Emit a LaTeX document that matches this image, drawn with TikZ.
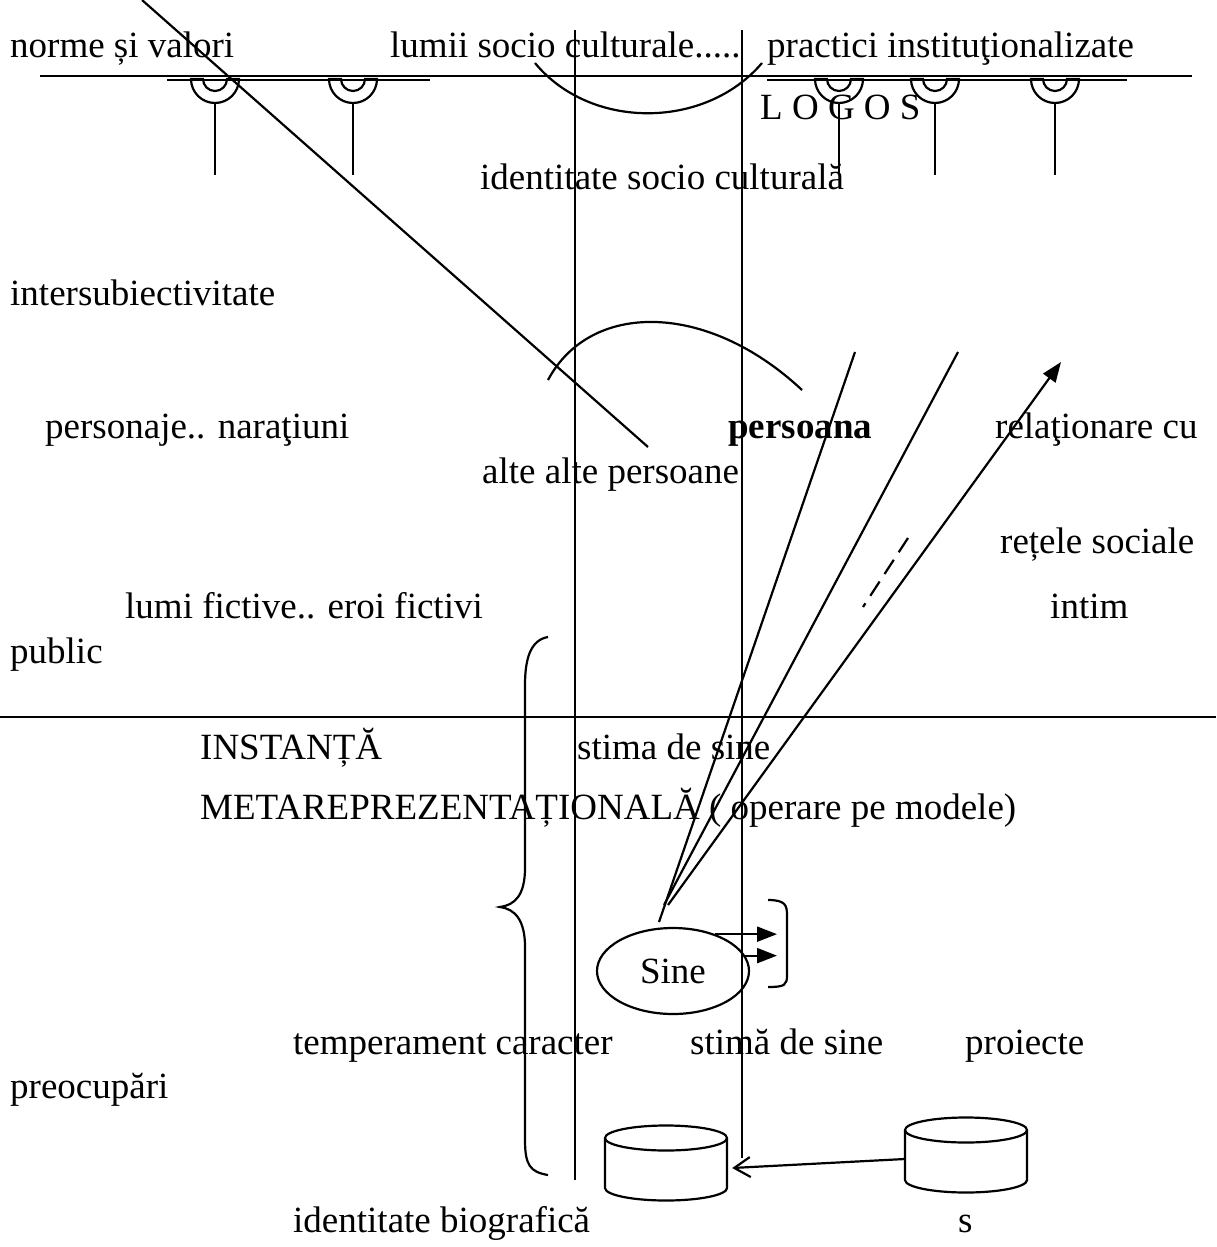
\documentclass[tikz,border=0pt]{standalone}
\usepackage{fontspec}
\setmainfont{Liberation Serif}
\usetikzlibrary{shapes.geometric,arrows.meta}
\begin{document}
\begin{tikzpicture}[x=1pt,y=-1pt,
  txt/.style={font=\fontsize{37}{44}\selectfont},
  lbl/.style={txt, anchor=base west, inner sep=0pt},
  ln/.style={line width=2.2pt},
  tip/.style={ln, -{Triangle[length=20pt,width=15pt]}},
  opentip/.style={ln, -{Straight Barb[length=16pt,width=20pt]}},
  socket/.pic={
    \draw[ln] (-24,0) arc[start angle=180,end angle=0,radius=24]
      -- (12,0) arc[start angle=0,end angle=180,radius=12] -- cycle;
    \draw[ln] (0,24) -- (0,96);
  },
  drum/.pic={
    \draw[ln] (0,-25) ellipse[x radius=61, y radius=12.5];
    \draw[ln] (-61,-25) -- (-61,25)
      arc[start angle=180,end angle=0,x radius=61,y radius=12.5] -- (61,-25);
  }]
\useasboundingbox (0,0) rectangle (1216,1247);

% ---- labels ----
\node[lbl] (norme) at (10,57) {norme și valori};
\node[lbl] (lumii) at (390,57) {lumii socio culturale.....};
\node[lbl] (practici) at (767,57) {practici instituţionalizate};
\node[lbl] (logos) at (760,119) {L O G O S};
\node[lbl] (idsc) at (480,189) {identitate socio culturală};
\node[lbl] (inter) at (10,305) {intersubiectivitate};
\node[lbl] (perso) at (45,438) {personaje.. naraţiuni};
\node[lbl, font=\fontsize{37}{44}\selectfont\bfseries] (persoana) at (728,438) {persoana};
\node[lbl] (relat) at (995,438) {relaţionare cu};
\node[lbl] (alte) at (482,483) {alte alte persoane};
\node[lbl] (retele) at (1000,553) {rețele sociale};
\node[lbl] (lumif) at (125,618) {lumi fictive.. eroi fictivi};
\node[lbl] (intim) at (1050,618) {intim};
\node[lbl] (public) at (10,663) {public};
\node[lbl] (instanta) at (200,759) {INSTANȚĂ};
\node[lbl] (stima) at (577,759) {stima de sine};
\node[lbl] (meta) at (200,819) {METAREPREZENTAȚIONALĂ ( operare pe modele)};
\node[lbl] (temp) at (293,1054) {temperament caracter};
\node[lbl] (stimas) at (690,1054) {stimă de sine};
\node[lbl] (proiecte) at (965,1054) {proiecte};
\node[lbl] (preoc) at (10,1098) {preocupări};
\node[lbl] (idbio) at (293,1232) {identitate biografică};
\node[lbl] (s) at (958,1232) {s};

% ---- Sine ----
\node[txt, ellipse, draw, ln, inner sep=0pt, minimum width=152pt, minimum height=86pt]
  (sine) at (673,971) {Sine};

% ---- LOGOS bar with sockets ----
\coordinate (barL) at (40,76);   \coordinate (barR) at (1192,76);
\draw[ln] (barL) -- (barR);
\coordinate (b1L) at (167,80);   \coordinate (b1R) at (430,80);
\coordinate (b2L) at (767,80);   \coordinate (b2R) at (1127,80);
\draw[ln] (b1L) -- (b1R);
\draw[ln] (b2L) -- (b2R);
\foreach \cx in {215,353,839,935,1055}
  \pic at (\cx,79) {socket};

% ---- long diagonal ----
\coordinate (dgA) at (142,0);  \coordinate (dgB) at (648,447);
\draw[ln] (dgA) -- (dgB);

% ---- arcs ----
\coordinate (acA) at (535,63);  \coordinate (acB) at (762,63);
\draw[ln] (acA) .. controls (590,130) and (705,130) .. (acB);
\coordinate (amA) at (548,380); \coordinate (amB) at (802,390);
\draw[ln] (amA) .. controls (590,301) and (707,301) .. (amB);

% ---- vertical rails ----
\coordinate (v1t) at (575,30);  \coordinate (v1b) at (575,1180);
\coordinate (v2t) at (742,30);  \coordinate (v2b) at (742,1158);
\draw[ln] (v1t) -- (v1b);
\draw[ln] (v2t) -- (v2b);

% ---- divider ----
\coordinate (hzL) at (0,717); \coordinate (hzR) at (1216,717);
\draw[ln] (hzL) -- (hzR);

% ---- rays from Sine ----
\coordinate (raA0) at (659,922); \coordinate (raA1) at (855,352);
\coordinate (raB0) at (664,905); \coordinate (raB1) at (958,352);
\coordinate (raC0) at (668,905); \coordinate (raC1) at (1061,362);
\draw[ln] (raA0) -- (raA1);
\draw[ln] (raB0) -- (raB1);
\draw[tip] (raC0) -- (raC1);
\coordinate (dsA) at (908,538); \coordinate (dsB) at (863,607);
\draw[ln, dash pattern=on 17pt off 9pt] (dsA) -- (dsB);

% ---- brace ----
\draw[ln] (548,637) .. controls (530,640) and (525,660) .. (525,685)
  -- (525,868) .. controls (525,895) and (515,905) .. (500,907)
  .. controls (515,909) and (525,920) .. (525,947)
  -- (525,1140) .. controls (525,1165) and (530,1172) .. (548,1175);

% ---- bracket and arrows out of Sine ----
\coordinate (brk) at (777,945);
\draw[ln] (768,900) .. controls (785,900) and (787,905) .. (787,915)
  -- (787,975) .. controls (787,985) and (785,987) .. (768,987);
\draw[tip] (sine.41) -- (sine.41 -| brk);
\draw[tip] (sine.12) -- (sine.12 -| brk);

% ---- drums ----
\pic at (666,1163) {drum};
\pic at (966,1155) {drum};
\node[inner sep=0pt, minimum width=122pt, minimum height=75pt] (cylL) at (666,1163) {};
\node[inner sep=0pt, minimum width=122pt, minimum height=75pt] (cylR) at (966,1155) {};
\draw[opentip] ([yshift=-4pt]cylR.west) -- ([xshift=5pt,yshift=-5pt]cylL.east);

\end{tikzpicture}
\end{document}
